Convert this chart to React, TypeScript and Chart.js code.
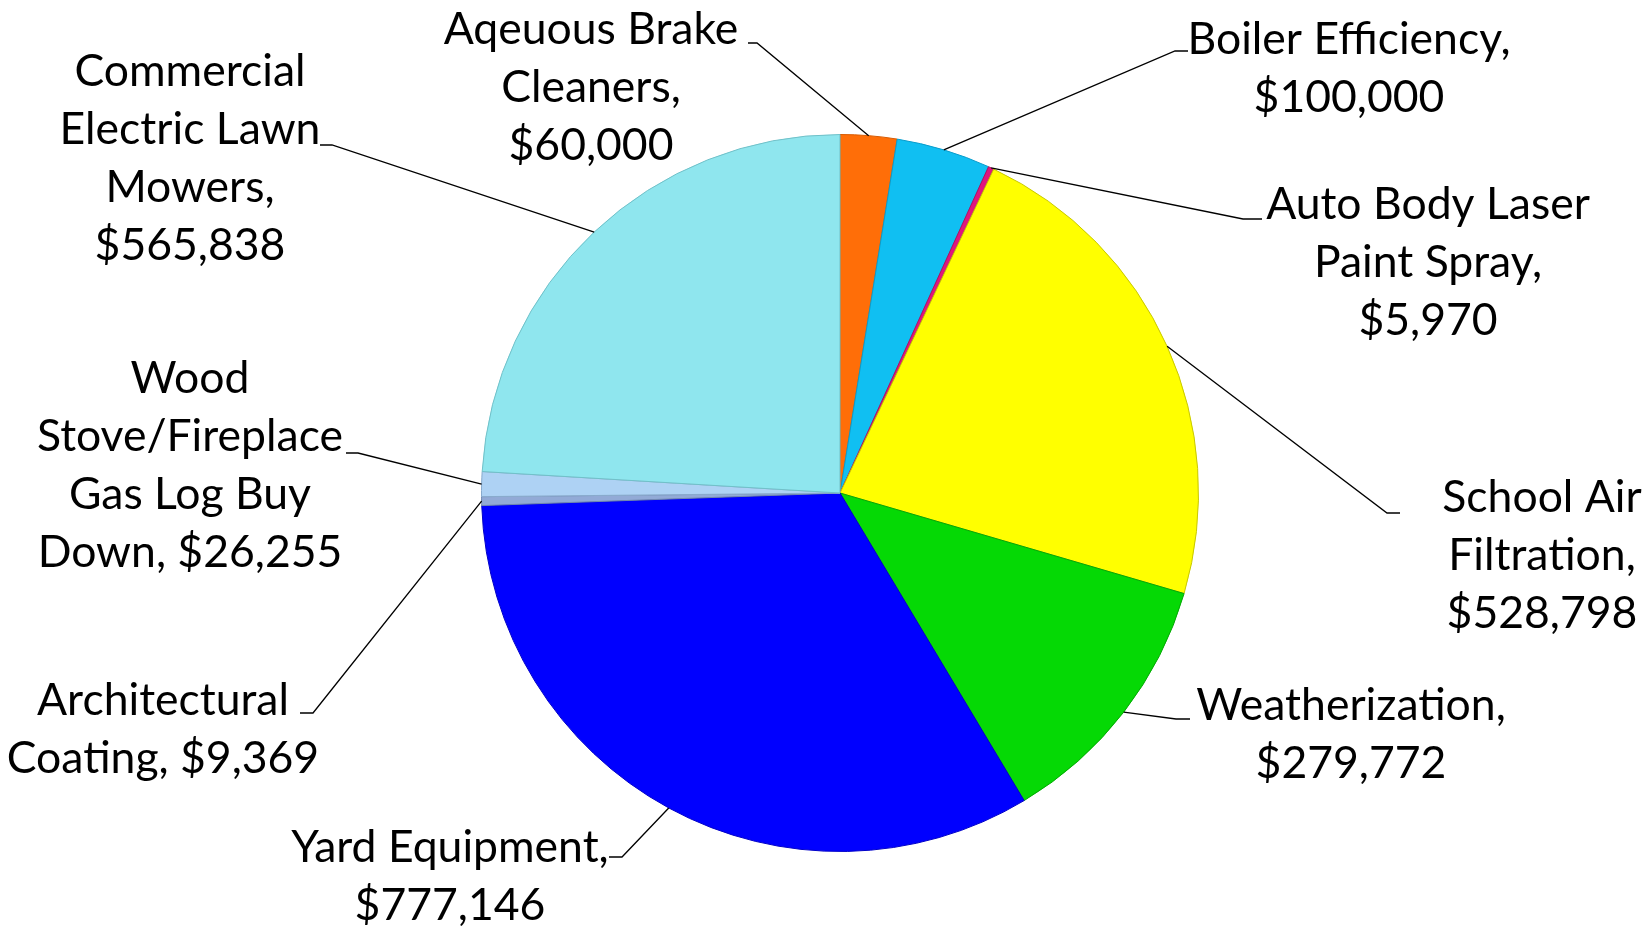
import React, { useEffect, useRef } from "react";
import { Chart, registerables } from "chart.js";

Chart.register(...registerables);

const categories = [
  "Aqeuous Brake Cleaners",
  "Boiler Efficiency",
  "Auto Body Laser Paint Spray",
  "School Air Filtration",
  "Weatherization",
  "Yard Equipment",
  "Architectural Coating",
  "Wood Stove/Fireplace Gas Log Buy Down",
  "Commercial Electric Lawn Mowers",
];

const values = [60000, 100000, 5970, 528798, 279772, 777146, 9369, 26255, 565838];

const labelLines = [
  ["Aqeuous Brake", "Cleaners,", "$60,000"],
  ["Boiler Efficiency,", "$100,000"],
  ["Auto Body Laser", "Paint Spray,", "$5,970"],
  ["School Air", "Filtration,", "$528,798"],
  ["Weatherization,", "$279,772"],
  ["Yard Equipment,", "$777,146"],
  ["Architectural", "Coating, $9,369"],
  ["Wood", "Stove/Fireplace", "Gas Log Buy", "Down, $26,255"],
  ["Commercial", "Electric Lawn", "Mowers,", "$565,838"],
];

const colors = [
  "#FF6E08",
  "#10BFF2",
  "#E0157E",
  "#FFFF00",
  "#05D905",
  "#0000FF",
  "#92AAD6",
  "#AED2F4",
  "#8FE6EE",
];

const borderColors = [
  "#D85A00",
  "#0A9CCB",
  "#B01060",
  "#C8C800",
  "#04A804",
  "#0000C8",
  "#7088B0",
  "#88AACC",
  "#70C0C8",
];

// Label layout: text centre x, first-line centre y, text-side attach point, elbow point
const labelLayout = [
  { x: 591, y: 30, ax: 748, ay: 43, ex: 757, ey: 43 },
  { x: 1349, y: 40, ax: 1188, ay: 51, ex: 1175, ey: 51 },
  { x: 1428, y: 205, ax: 1262, ay: 219, ex: 1243, ey: 219 },
  { x: 1542, y: 498, ax: 1400, ay: 513, ex: 1387, ey: 513 },
  { x: 1351, y: 706, ax: 1190, ay: 719, ex: 1176, ey: 719 },
  { x: 450, y: 848, ax: 609, ay: 857, ex: 622, ey: 857 },
  { x: 163, y: 701, ax: 300, ay: 713, ex: 313, ey: 713 },
  { x: 190, y: 379, ax: 346, ay: 453, ex: 358, ey: 453 },
  { x: 190, y: 72, ax: 320, ay: 145, ex: 332, ey: 145 },
];

const LINE_GAP = 58;
const FONT = "44.5px Lato, 'Open Sans', sans-serif";

const labelPlugin = {
  id: "outerLabels",
  afterDatasetsDraw(chart: any) {
    const ctx = chart.ctx;
    const meta = chart.getDatasetMeta(0);
    ctx.save();
    meta.data.forEach((arc: any, i: number) => {
      const p = arc.getProps(["x", "y", "startAngle", "endAngle", "outerRadius"], true);
      const mid = (p.startAngle + p.endAngle) / 2;
      const px = p.x + Math.cos(mid) * p.outerRadius;
      const py = p.y + Math.sin(mid) * p.outerRadius;
      const L = labelLayout[i];
      ctx.strokeStyle = "#000";
      ctx.lineWidth = 1.3;
      ctx.beginPath();
      ctx.moveTo(L.ax, L.ay);
      ctx.lineTo(L.ex, L.ey);
      ctx.lineTo(px, py);
      ctx.stroke();
      ctx.fillStyle = "#000";
      ctx.font = FONT;
      ctx.textAlign = "center";
      ctx.textBaseline = "middle";
      labelLines[i].forEach((line, j) => {
        ctx.fillText(line, L.x, L.y + j * LINE_GAP);
      });
    });
    ctx.restore();
  },
};

export default function App() {
  const ref = useRef<HTMLCanvasElement>(null);
  useEffect(() => {
    document.body.style.margin = "0";
    const chart = new Chart(ref.current as HTMLCanvasElement, {
      type: "pie",
      data: {
        labels: categories,
        datasets: [
          {
            data: values,
            backgroundColor: colors,
            borderColor: borderColors,
            borderWidth: 1,
          },
        ],
      },
      options: {
        responsive: false,
        animation: false,
        layout: { padding: { top: 134, bottom: 75, left: 300, right: 272 } },
        plugins: {
          legend: { display: false },
          tooltip: { enabled: false },
        },
      },
      plugins: [labelPlugin],
    });
    return () => chart.destroy();
  }, []);
  return (
    <div style={{ width: 1652, height: 927, background: "#fff" }}>
      <canvas ref={ref} width={1652} height={927} />
    </div>
  );
}
